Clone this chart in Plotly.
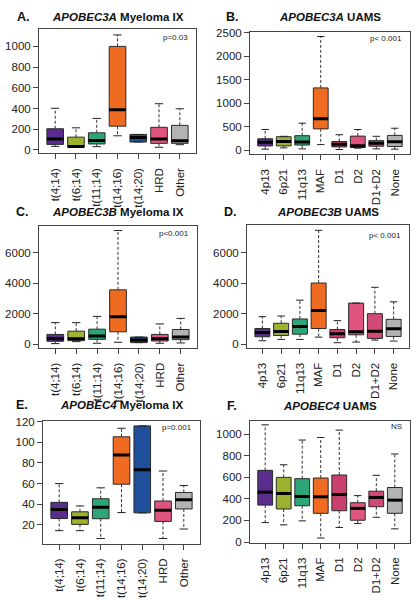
import plotly.graph_objects as go

W, H = 417, 600

# ---------------- data ----------------
mix_cats = ["t(4;14)", "t(6;14)", "t(11;14)", "t(14;16)", "t(14;20)", "HRD", "Other"]
uams_cats = ["4p13", "6p21", "11q13", "MAF", "D1", "D2", "D1+D2", "None"]

mix_colors = ["#5a2d8c", "#9db22e", "#2ea576", "#ef6b22", "#1f4e9a", "#e0557f", "#b3b3b3"]
uams_colors = ["#5a2d8c", "#9db22e", "#2ea576", "#ef6b22", "#c9406c", "#e0557f", "#d24a76", "#b3b3b3"]

# A: APOBEC3A Myeloma IX
A_low = [34, 26, 31, 136, 76, 25, 50]
A_q1 = [53, 28, 57, 229, 76, 63, 63]
A_med = [106, 33, 91, 388, 120, 105, 87]
A_q3 = [204, 123, 165, 1000, 149, 218, 237]
A_up = [402, 213, 304, 1111, 149, 446, 397]

# B: APOBEC3A UAMS
B_low = [21, 48, 27, 118, 13, 42, 27, 21]
B_q1 = [90, 90, 108, 452, 69, 55, 84, 78]
B_med = [170, 185, 172, 665, 124, 95, 145, 180]
B_q3 = [242, 285, 307, 1323, 184, 298, 202, 313]
B_up = [438, 294, 573, 2415, 328, 438, 294, 466]

# C: APOBEC3B Myeloma IX
C_low = [43, 171, 64, 129, 107, 64, 86]
C_q1 = [193, 236, 321, 814, 107, 214, 300]
C_med = [364, 364, 536, 1800, 279, 364, 471]
C_q3 = [643, 857, 986, 3557, 471, 643, 964]
C_up = [1414, 1414, 1821, 7436, 471, 1329, 1693]

# D: APOBEC3B UAMS
D_low = [237, 323, 323, 474, 108, 151, 280, 216]
D_q1 = [496, 582, 668, 1035, 431, 625, 388, 518]
D_med = [776, 841, 1165, 2221, 690, 820, 863, 1014]
D_q3 = [1035, 1380, 1661, 4011, 970, 2700, 2006, 1639]
D_up = [1812, 1856, 2892, 7460, 1553, 2700, 3733, 2782]

# E: APOBEC4 Myeloma IX
E_low = [14.2, 14.2, 6.6, 31.8, 31.5, 6.6, 15.8]
E_q1 = [26.0, 20.3, 25.8, 59.3, 31.5, 23.2, 35.3]
E_med = [34.7, 26.7, 36.9, 87.7, 73.3, 34.0, 44.3]
E_q3 = [41.7, 32.5, 45.2, 105.3, 115.9, 43.0, 51.3]
E_up = [59.9, 38.2, 55.8, 113.6, 115.9, 72.1, 58.0]

# F: APOBEC4 UAMS
F_low = [180, 159, 196, 37, 135, 171, 229, 122]
F_q1 = [342, 306, 336, 266, 290, 202, 327, 266]
F_med = [462, 450, 422, 419, 440, 312, 413, 388]
F_q3 = [664, 599, 587, 593, 621, 364, 471, 505]
F_up = [1086, 716, 945, 969, 1037, 430, 618, 816]

# ---------------- helpers ----------------
def fx(px):
    return px / W

def fy(py):
    return 1 - py / H

FONT = "Liberation Sans, Arial, sans-serif"
fig = go.Figure()

panels = [
    # letter, gene, cohort, frame(l, r, t, b), letter_x, title_y, ptext, p_y, yrange, dtick, data
    ("A.", "APOBEC3A", "Myeloma IX", (39, 196, 24, 151), 23, 12.7, "p=0.03", 33,
     [-35, 1172], 200, mix_cats, mix_colors, (A_low, A_q1, A_med, A_q3, A_up)),
    ("B.", "APOBEC3A", "UAMS", (250, 410, 27, 152), 232, 11.7, "p< 0.001", 34,
     [-92, 2521], 500, uams_cats, uams_colors, (B_low, B_q1, B_med, B_q3, B_up)),
    ("C.", "APOBEC3B", "Myeloma IX", (39, 197, 225, 349), 22.5, 210, "p<0.001", 232,
     [-257, 7716], 2000, mix_cats, mix_colors, (C_low, C_q1, C_med, C_q3, C_up)),
    ("D.", "APOBEC3B", "UAMS", (247, 409, 224, 349), 230, 210, "p< 0.001", 234,
     [-250, 7790], 2000, uams_cats, uams_colors, (D_low, D_q1, D_med, D_q3, D_up)),
    ("E.", "APOBEC4", "Myeloma IX", (43, 200, 423, 548), 21.5, 407, "p=0.001", 430,
     [1.4, 120.7], 20, mix_cats, mix_colors, (E_low, E_q1, E_med, E_q3, E_up)),
    ("F.", "APOBEC4", "UAMS", (250, 410, 423, 547), 232, 408, "NS", 429,
     [-8, 1122], 200, uams_cats, uams_colors, (F_low, F_q1, F_med, F_q3, F_up)),
]

annotations = []
for k, (letter, gene, cohort, frame, lx, ty, ptxt, py, yr, dt, cats, colors, stats) in enumerate(panels, start=1):
    low, q1, med, q3, up = stats
    n = len(cats)
    pos = list(range(1, n + 1))
    xa = "x" if k == 1 else f"x{k}"
    ya = "y" if k == 1 else f"y{k}"
    l, r, t, b = frame

    # whiskers (dashed)
    wx, wy = [], []
    for i in range(n):
        wx += [pos[i], pos[i], None, pos[i], pos[i], None]
        wy += [q3[i], up[i], None, q1[i], low[i], None]
    fig.add_trace(go.Scatter(x=wx, y=wy, mode="lines", xaxis=xa, yaxis=ya,
                             line=dict(color="#333333", width=1, dash="3px,2px"),
                             showlegend=False, hoverinfo="skip"))
    # boxes
    for i in range(n):
        fig.add_trace(go.Box(x=[pos[i]], q1=[q1[i]], median=[med[i]], q3=[q3[i]],
                             lowerfence=[q1[i]], upperfence=[q3[i]], width=0.8,
                             fillcolor=colors[i], line=dict(color="#2a2a2a", width=1),
                             whiskerwidth=0, boxpoints=False, xaxis=xa, yaxis=ya,
                             showlegend=False, hoverinfo="skip"))
    # staples
    sx, sy = [], []
    for i in range(n):
        sx += [pos[i] - 0.2, pos[i] + 0.2, None, pos[i] - 0.2, pos[i] + 0.2, None]
        sy += [up[i], up[i], None, low[i], low[i], None]
    fig.add_trace(go.Scatter(x=sx, y=sy, mode="lines", xaxis=xa, yaxis=ya,
                             line=dict(color="#222222", width=1),
                             showlegend=False, hoverinfo="skip"))
    # medians
    mx, my = [], []
    for i in range(n):
        mx += [pos[i] - 0.4, pos[i] + 0.4, None]
        my += [med[i], med[i], None]
    fig.add_trace(go.Scatter(x=mx, y=my, mode="lines", xaxis=xa, yaxis=ya,
                             line=dict(color="#000000", width=3),
                             showlegend=False, hoverinfo="skip"))

    ext = 0.04 * n
    axis_common = dict(showline=True, mirror=True, linecolor="#444444", linewidth=1,
                       ticks="outside", ticklen=5, tickcolor="#444444", tickwidth=1,
                       showgrid=False, zeroline=False,
                       tickfont=dict(family=FONT, size=11.5, color="#222222"))
    fig.layout[("xaxis" if k == 1 else f"xaxis{k}")] = dict(
        domain=[fx(l), fx(r)], anchor=ya, range=[0.5 - ext, n + 0.5 + ext],
        tickmode="array", tickvals=pos, ticktext=cats, tickangle=-90,
        ticklabelstandoff=4, **axis_common)
    fig.layout[("yaxis" if k == 1 else f"yaxis{k}")] = dict(
        domain=[fy(b), fy(t)], anchor=xa, range=yr, dtick=dt, tick0=0,
        **axis_common)

    annotations.append(dict(text=f"<b>{letter}</b>", x=fx(lx), y=fy(ty), xref="paper", yref="paper",
                            xanchor="center", yanchor="middle", showarrow=False,
                            font=dict(family=FONT, size=12.5, color="#111111")))
    annotations.append(dict(text=f"<b><i>{gene}</i> {cohort}</b>", x=fx((l + r) / 2), y=fy(ty),
                            xref="paper", yref="paper", xanchor="center", yanchor="middle",
                            showarrow=False, font=dict(family=FONT, size=11.5, color="#111111")))
    annotations.append(dict(text=ptxt, x=fx(r - 6), y=fy(py), xref="paper", yref="paper",
                            xanchor="right", yanchor="middle", showarrow=False,
                            font=dict(family=FONT, size=8, color="#222222")))

fig.update_layout(width=W, height=H, margin=dict(l=0, r=0, t=0, b=0),
                  paper_bgcolor="white", plot_bgcolor="white",
                  boxmode="overlay", showlegend=False, annotations=annotations,
                  font=dict(family=FONT))

fig.write_html("out.html", config={"displayModeBar": False},
               post_script="document.body.style.margin='0';document.body.style.padding='0';"
                           "document.body.style.overflow='hidden';")
